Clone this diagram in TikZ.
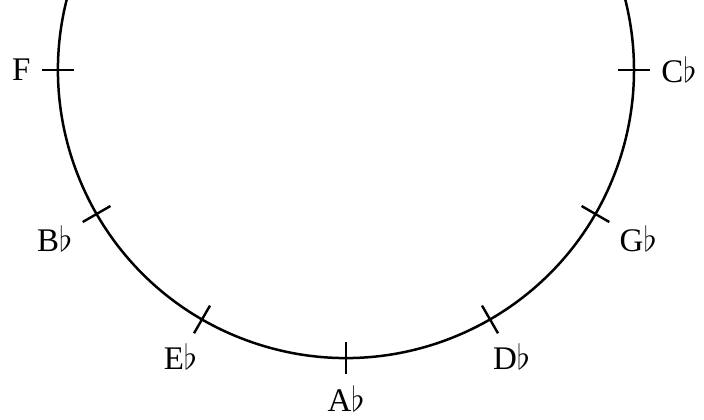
\documentclass[tikz,border=0pt]{standalone}
\usepackage{fontspec}
\setmainfont{Liberation Serif}
\usetikzlibrary{calc}

\begin{document}
\begin{tikzpicture}[x=0.5pt,y=0.5pt,
    rim/.style={line width=1.25pt,black},
    tk/.style={line width=1.2pt,black},
    key/.style={font=\fontsize{16.5}{20}\selectfont,inner sep=2pt}]

    \useasboundingbox (-346,70) rectangle (358,-349);
    \clip (-346,70) rectangle (358,-349);

    \coordinate (o) at (0,0);
    \draw[rim] (160:288) arc[start angle=160,end angle=380,radius=288];

    % ticks and note names, fifths downward
    \foreach \a/\n/\txt in {180/f/F, 210/bb/B$\flat$, 240/eb/E$\flat$,
        270/ab/A$\flat$, 300/db/D$\flat$, 330/gb/G$\flat$, 360/cb/C$\flat$}{
      \draw[tk] ($(o)+(\a:272)$) -- ($(o)+(\a:304)$);
      \node[key,anchor=\a+180] (\n) at ($(o)+(\a:311)$) {\txt};
    }
\end{tikzpicture}
\end{document}
